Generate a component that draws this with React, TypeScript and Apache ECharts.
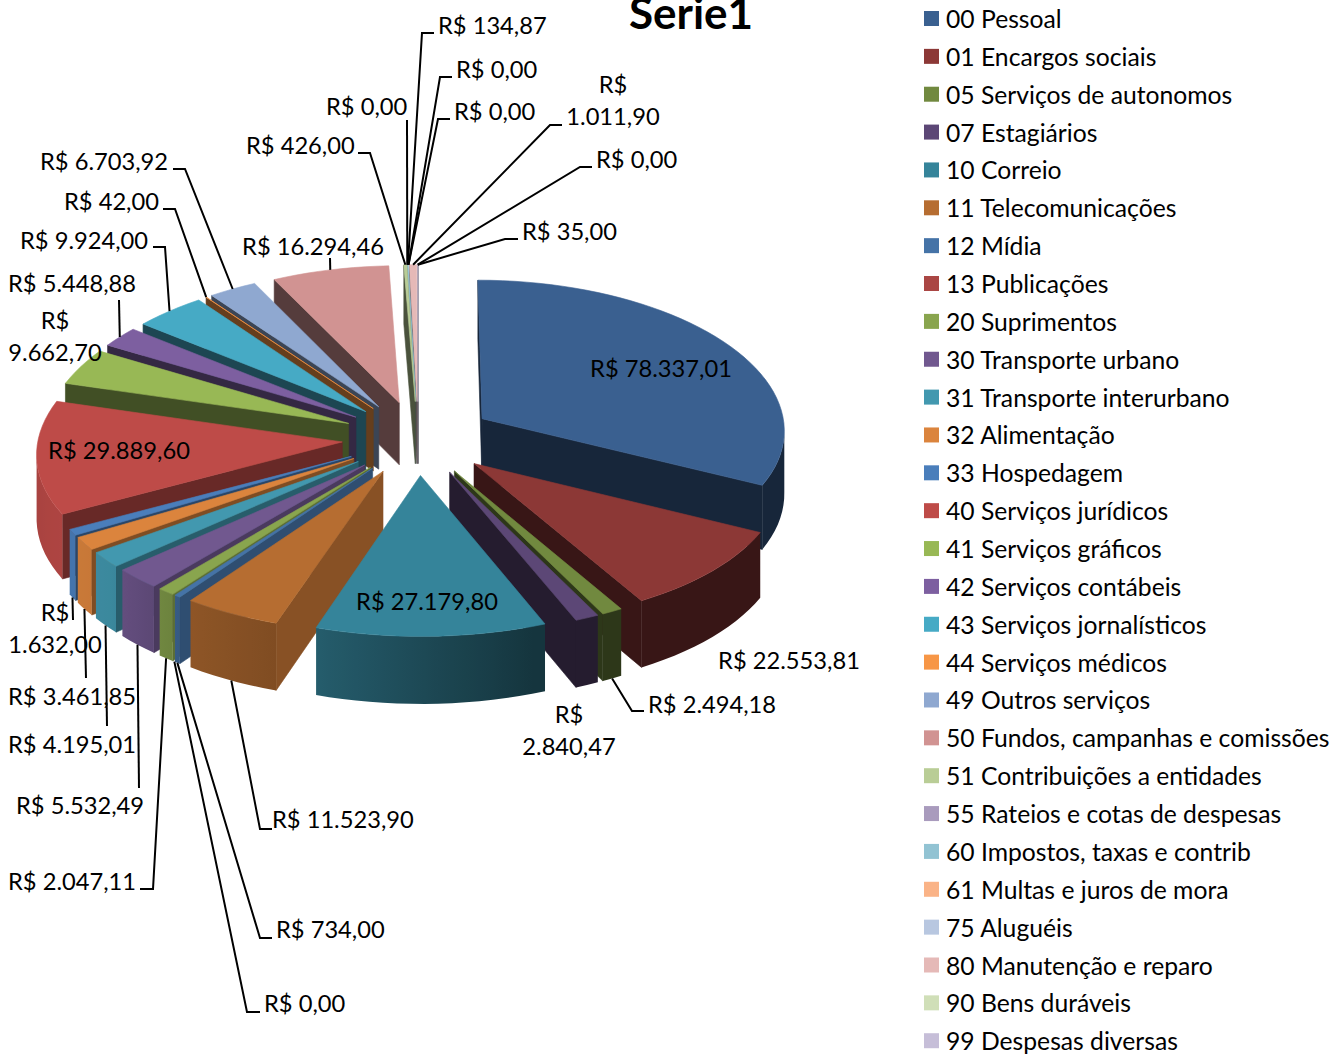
import React, { useEffect, useRef } from "react";
import * as echarts from "echarts";

const categories = ["00 Pessoal","01 Encargos sociais","05 Serviços de autonomos","07 Estagiários","10 Correio","11 Telecomunicações","12 Mídia","13 Publicações","20 Suprimentos","30 Transporte urbano","31 Transporte interurbano","32 Alimentação","33 Hospedagem","40 Serviços jurídicos","41 Serviços gráficos","42 Serviços contábeis","43 Serviços jornalísticos","44 Serviços médicos","49 Outros serviços","50 Fundos, campanhas e comissões","51 Contribuições a entidades","55 Rateios e cotas de despesas","60 Impostos, taxas e contrib","61 Multas e juros de mora","75 Aluguéis","80 Manutenção e reparo","90 Bens duráveis","99 Despesas diversas"];
const values = [78337.01,22553.81,2494.18,2840.47,27179.80,11523.90,734.00,0,2047.11,5532.49,4195.01,3461.85,1632.00,29889.60,9662.70,5448.88,9924.00,42.00,6703.92,16294.46,426.00,0,134.87,0,0,1011.90,0,35.00];
const valueLabels = ["R$ 78.337,01","R$ 22.553,81","R$ 2.494,18","R$\n2.840,47","R$ 27.179,80","R$ 11.523,90","R$ 734,00","R$ 0,00","R$ 2.047,11","R$ 5.532,49","R$ 4.195,01","R$ 3.461,85","R$\n1.632,00","R$ 29.889,60","R$\n9.662,70","R$ 5.448,88","R$ 9.924,00","R$ 42,00","R$ 6.703,92","R$ 16.294,46","R$ 426,00","R$ 0,00","R$ 134,87","R$ 0,00","R$ 0,00","R$\n1.011,90","R$ 0,00","R$ 35,00"];
const colors = ["#3a6090","#8c3836","#71893f","#5c4776","#35849a","#b66d31","#4573a7","#aa4644","#89a54e","#71588f","#4298af","#db843d","#4a7ebb","#be4b48","#98b855","#7d5fa0","#46aac5","#f79646","#8fa8d0","#d19392","#b9cd96","#a99bbd","#92c3d3","#fab387","#b8c7e0","#e5b9b7","#d0dfb8","#c6bed8"];

// label placement: [x, y, align]
const labelPos: [number, number, string][] = [
  [661,368,"center"],[789,660,"center"],[648,704,"left"],[569,730,"center"],[427,601,"center"],[272,819,"left"],[276,929,"left"],[264,1003,"left"],[8,881,"left"],[16,805,"left"],[8,744,"left"],[8,696,"left"],[55,628,"center"],[119,450,"center"],[55,336,"center"],[8,283,"left"],[20,240,"left"],[64,201,"left"],[40,161,"left"],[313,246,"center"],[246,145,"left"],[326,106,"left"],[438,25,"left"],[456,69,"left"],[454,111,"left"],[613,100,"center"],[596,159,"left"],[522,231,"left"]
];
// leader points before the slice anchor
const leaderPts: number[][][] = [
  [],[],[[644,711],[632,711]],[],[],[[272,829],[260,829]],[[272,938],[260,938]],[[260,1012],[247,1012]],[[140,889],[153,889]],[[139,788]],[[107,726]],[[86,678]],[[73,620]],[],[],[[119,300]],[[153,247],[165,247]],[[163,209],[175,209]],[[173,169],[185,169]],[[330,258]],[[358,153],[370,153]],[[407,120]],[[434,33],[422,33]],[[452,77],[440,77]],[[450,119],[438,119]],[[562,125],[550,125]],[[592,167],[580,167]],[[518,239],[505,239]]
];

const CX = 418, CY = 438, RX = 304, RY = 148, H = 63, EXPL = 0.25, PX = 0.07, PY = 0.054;
const FONT = "Lato";
const FS = 23.7;
const LEGEND_FS = 24.7;

const total = values.reduce((a, b) => a + b, 0);
const D2R = Math.PI / 180;
const cum: number[] = [];
values.reduce((a, v, i) => { cum[i] = a; return a + v; }, 0);

function proj(wx: number, wy: number, down: number): [number, number] {
  const sx = 1 / (1 - PX * wy);
  const sy = 1 / (1 - PY * wy);
  return [CX + RX * wx * sx, CY + RY * wy * sy + down * sy];
}
function pt(bis: number, ang: number, r: number, down = 0): [number, number] {
  const wx = EXPL * Math.sin(bis * D2R) + r * Math.sin(ang * D2R);
  const wy = -EXPL * Math.cos(bis * D2R) - r * Math.cos(ang * D2R);
  return proj(wx, wy, down);
}
function lerpStops(stops: number[][], a: number) {
  for (let i = 1; i < stops.length; i++) {
    if (a <= stops[i][0]) {
      const [a0, s0] = stops[i - 1], [a1, s1] = stops[i];
      return s0 + (s1 - s0) * (a - a0) / (a1 - a0);
    }
  }
  return stops[stops.length - 1][1];
}
const rimStops = [[0,.4],[90,.4],[160,.4],[198,.7],[215,.78],[230,.9],[240,.92],[270,.87],[360,.85]];
const startStops = [[0,.4],[190,.78],[215,.68],[240,.55],[290,.42],[360,.4]];
function shade(hex: string, f: number) {
  const n = parseInt(hex.slice(1), 16);
  const c = (v: number) => Math.round(Math.min(255, v * f));
  return `rgb(${c((n >> 16) & 255)},${c((n >> 8) & 255)},${c(n & 255)})`;
}

function sliceRender(idx: number) {
  return (_p: any, api: any) => {
    const value = api.value(0);
    if (!value) return { type: "group", children: [] };
    const a0 = (api.value(1) / total) * 360;
    const a1 = (api.value(2) / total) * 360;
    const bis = (a0 + a1) / 2;
    const col = colors[idx];
    const tip = pt(bis, bis, 0);
    const tipB = pt(bis, bis, 0, H);
    const steps = Math.max(1, Math.ceil((a1 - a0) / 2.5));
    const rim: [number, number][] = [];
    const rimB: [number, number][] = [];
    const angs: number[] = [];
    for (let i = 0; i <= steps; i++) {
      const a = a0 + ((a1 - a0) * i) / steps;
      angs.push(a);
      rim.push(pt(bis, a, 1));
      rimB.push(pt(bis, a, 1, H));
    }
    const kids: any[] = [];
    const quad = (pts: number[][], fill: any, stroke?: string) => kids.push({
      type: "polygon", shape: { points: pts },
      style: { fill, stroke: stroke || fill, lineWidth: 0.6 }, silent: true,
    });
    if (rim[0][0] < tip[0]) quad([tip, rim[0], rimB[0], tipB], shade(col, lerpStops(startStops, a0)));
    if (tip[0] < rim[steps][0]) quad([rim[steps], tip, tipB, rimB[steps]], shade(col, 0.4));
    // outer wall: the part of the rim whose outer side faces the viewer
    const vis: number[] = [];
    for (let i = 0; i < steps; i++) {
      if (rim[i + 1][0] < rim[i][0]) {
        if (!vis.length) vis.push(i);
        vis.push(i + 1);
      }
    }
    if (vis.length > 1) {
      const top = vis.map((i) => rim[i]);
      const bottom = vis.map((i) => rimB[i]).reverse();
      const xs = top.map((p) => p[0]);
      const xMin = Math.min(...xs), xMax = Math.max(...xs);
      const stops = vis.map((i) => ({
        offset: Math.max(0, Math.min(1, (rim[i][0] - xMin) / Math.max(1, xMax - xMin))),
        color: shade(col, lerpStops(rimStops, angs[i])),
      })).sort((p, q) => p.offset - q.offset);
      quad([...top, ...bottom], { type: "linear", x: xMin, y: 0, x2: xMax, y2: 0, global: true, colorStops: stops }, "none");
    }
    quad([tip, ...rim], col);
    return { type: "group", children: kids };
  };
}

function labelRender(_p: any, api: any) {
  const i = api.value(0);
  const a0 = (api.value(1) / total) * 360;
  const a1 = (api.value(2) / total) * 360;
  const mid = (a0 + a1) / 2;
  const kids: any[] = [];
  const lead = leaderPts[i];
  if (lead.length) {
    const front = -Math.cos(mid * D2R) > 0.15;
    const anchor = pt(mid, mid, 1, front ? H : 0);
    kids.push({
      type: "polyline", shape: { points: [...lead, anchor] },
      style: { stroke: "#000", lineWidth: 2, fill: "none" }, silent: true,
    });
  }
  const [x, y, align] = labelPos[i];
  kids.push({
    type: "text", silent: true,
    style: { text: valueLabels[i], x, y, fill: "#000", font: `${FS}px ${FONT}`, lineHeight: 32, textAlign: align, textVerticalAlign: "middle" },
  });
  return { type: "group", children: kids };
}

export default function App() {
  const ref = useRef<HTMLDivElement>(null);
  useEffect(() => {
    const chart = echarts.init(ref.current!, undefined, { renderer: "svg" });
    const order = values.map((_, i) => i).sort((a, b) => {
      const m = (k: number) => ((cum[k] + values[k] / 2) / total) * 2 * Math.PI;
      return -Math.cos(m(a)) - -Math.cos(m(b));
    });
    const series: any[] = order.map((i) => ({
      type: "custom", name: categories[i], coordinateSystem: "none", silent: true,
      itemStyle: { color: colors[i] },
      renderItem: sliceRender(i),
      data: [[values[i], cum[i], cum[i] + values[i]]],
    }));
    series.push({
      type: "custom", name: "labels", coordinateSystem: "none", silent: true, z: 5,
      renderItem: labelRender,
      data: values.map((v, i) => [i, cum[i], cum[i] + v]),
    });
    chart.setOption({
      animation: false,
      backgroundColor: "#fff",
      title: { text: "Serie1", left: 686, textAlign: "center", top: -15, textStyle: { fontFamily: FONT, fontSize: 44, fontWeight: "bold", color: "#000" } },
      legend: {
        orient: "vertical", left: 924, top: 6, itemWidth: 15, itemHeight: 15, itemGap: 12.86, selectedMode: false,
        padding: 0,
        textStyle: { fontFamily: FONT, fontSize: LEGEND_FS, color: "#000", padding: [0, 0, 0, 2] },
        data: categories.map((name, i) => ({ name, icon: "rect", itemStyle: { color: colors[i] } })),
      },
      series,
    });
    return () => chart.dispose();
  }, []);
  return <div ref={ref} style={{ position: "absolute", left: 0, top: 0, width: 1342, height: 1054 }} />;
}
